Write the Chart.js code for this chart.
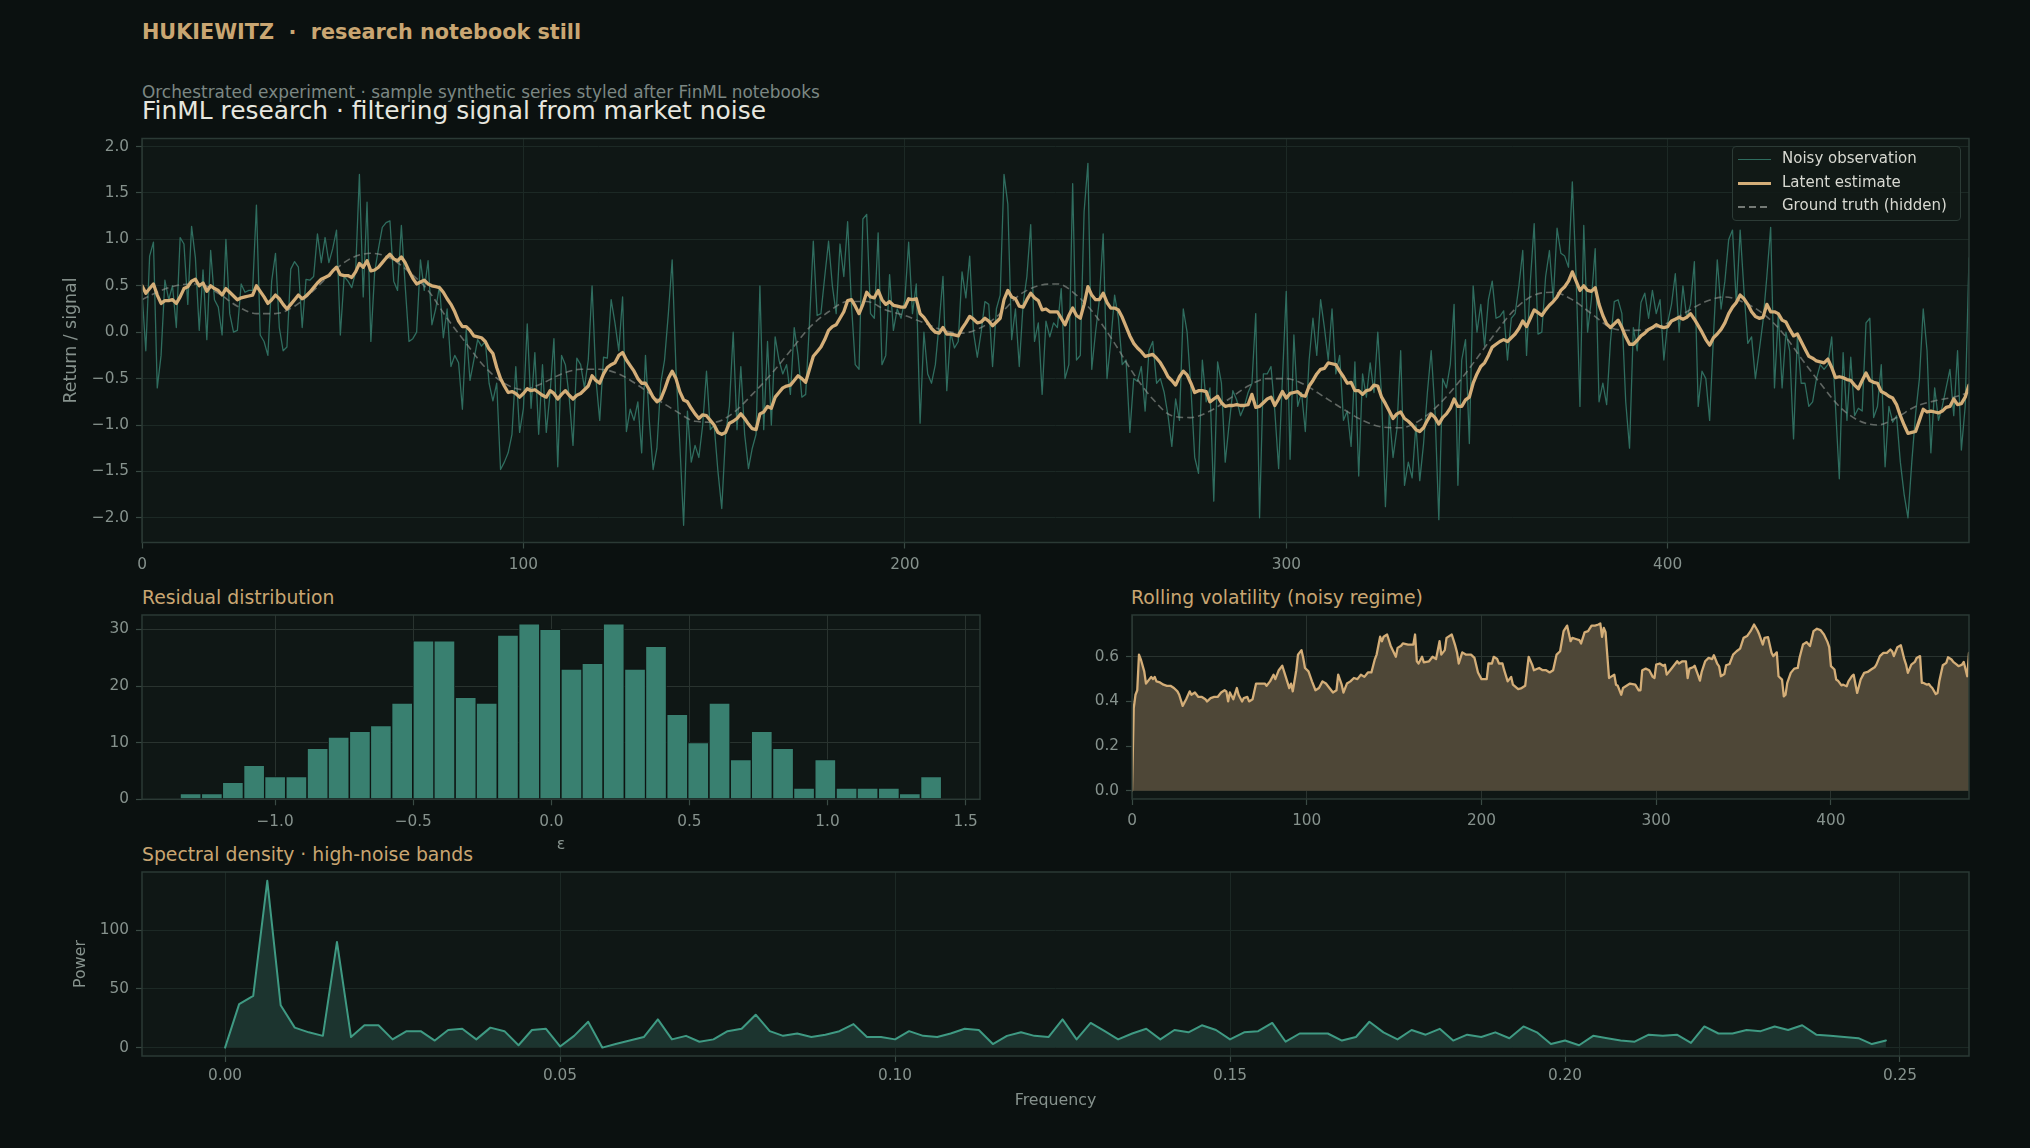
<!DOCTYPE html>
<html>
<head>
<meta charset="utf-8">
<script src="https://cdn.jsdelivr.net/npm/chart.js@4.4.0/dist/chart.umd.min.js"></script>
<style>
html, body { margin: 0; padding: 0; background: #0b1110; }
body { width: 2030px; height: 1148px; position: relative; overflow: hidden; font-family: "DejaVu Sans", sans-serif; }
.t { position: absolute; white-space: pre; line-height: 1; }
canvas { position: absolute; }
#legend { position: absolute; left: 1732px; top: 146px; width: 229px; height: 75px; box-sizing: border-box;
  background: rgba(17,26,23,0.92); border: 1px solid #2c3b36; border-radius: 4px; }
#legend .row { position: absolute; left: 0; height: 18px; width: 100%; }
#legend .s { position: absolute; left: 5px; width: 33px; top: 9px; }
#legend .l { position: absolute; left: 49px; top: 1px; font-size: 15px; line-height: 1; color: #d8d9d2; white-space: pre; }
</style>
</head>
<body>
<div class="t" style="left:142px;top:22px;font-size:20.75px;font-weight:bold;color:#c9a672;">HUKIEWITZ  ·  research notebook still</div>
<div class="t" style="left:142px;top:84px;font-size:16.9px;color:#7b8783;">Orchestrated experiment · sample synthetic series styled after FinML notebooks</div>
<div class="t" style="left:142px;top:99px;font-size:24.9px;color:#e6e6df;">FinML research · filtering signal from market noise</div>
<div class="t" style="left:142px;top:589px;font-size:18.8px;color:#c9a672;">Residual distribution</div>
<div class="t" style="left:1131px;top:589px;font-size:18.8px;color:#c9a672;">Rolling volatility (noisy regime)</div>
<div class="t" style="left:142px;top:846px;font-size:18.8px;color:#c9a672;">Spectral density · high-noise bands</div>

<canvas id="mainChart" width="1990" height="460" style="left:0px;top:128px;width:1990px;height:460px;"></canvas>
<canvas id="histChart" width="1000" height="250" style="left:0px;top:605px;width:1000px;height:250px;"></canvas>
<canvas id="volChart" width="990" height="230" style="left:1000px;top:605px;width:990px;height:230px;"></canvas>
<canvas id="specChart" width="1990" height="262" style="left:0px;top:862px;width:1990px;height:262px;"></canvas>

<div id="legend">
  <div class="row" style="top:3px;"><div class="s" style="border-top:1.3px solid #2f6d5f;"></div><div class="l">Noisy observation</div></div>
  <div class="row" style="top:27px;"><div class="s" style="top:8px;border-top:3.2px solid #d4ae78;"></div><div class="l">Latent estimate</div></div>
  <div class="row" style="top:50px;"><div class="s" style="height:1.6px;background:repeating-linear-gradient(90deg, rgba(150,155,150,0.75) 0 7px, transparent 7px 11px);"></div><div class="l">Ground truth (hidden)</div></div>
</div>

<script>
// ---- main panel: noisy observation, latent estimate, hidden ground truth (index 0..479)
const noisy = [
  0.43,-0.2,0.82,0.97,-0.6,-0.25,0.56,0.35,0.5,0.05,1.02,0.95,0.3,1.14,0.8,0.02,0.67,-0.08,0.88,0.35,
  0.27,-0.03,1.0,0.2,0.0,0.02,0.52,0.43,0.45,0.45,1.37,-0.03,-0.1,-0.25,0.55,0.85,0.05,-0.2,-0.16,0.68,
  0.76,0.7,0.05,0.57,0.56,0.6,1.06,0.75,1.02,0.75,0.9,1.1,-0.03,0.6,0.55,0.48,0.65,1.7,0.38,1.4,
  -0.1,0.65,0.9,1.13,1.18,1.2,0.55,0.45,1.15,0.5,-0.1,-0.07,0.0,0.78,0.45,0.77,0.08,0.25,0.5,-0.06,
  0.25,-0.37,-0.25,-0.33,-0.83,0.03,-0.52,-0.3,-0.08,-0.15,-0.1,-0.55,-0.74,-0.55,-1.48,-1.4,-1.3,-1.1,-0.37,-1.08,
  -0.82,0.09,-0.82,-0.22,-1.1,-0.35,-1.08,-0.65,-0.07,-1.45,-0.25,-0.35,-0.7,-1.22,-0.28,-0.35,-0.6,-0.3,0.5,-0.5,
  -0.95,-0.27,-0.28,0.35,0.1,-0.2,0.38,-1.07,-0.83,-0.95,-0.75,-1.3,-0.25,-0.95,-1.48,-1.25,-0.55,-0.3,0.2,0.78,
  -0.4,-1.2,-2.08,-0.85,-1.4,-1.22,-1.35,-1.0,-0.42,-1.05,-1.0,-1.5,-1.9,-1.1,-0.8,0.0,-1.05,-0.37,-1.1,-1.47,
  -1.25,-1.1,0.5,-1.05,-0.1,-1.0,-0.05,-0.3,-0.45,-0.35,-0.67,0.05,-0.25,-0.7,-0.67,0.1,0.98,0.18,0.2,0.6,
  0.98,0.5,0.2,0.95,0.6,1.19,0.3,-0.35,-0.4,1.22,1.27,0.2,0.15,1.07,-0.35,-0.25,0.62,0.02,0.25,0.15,
  0.35,0.97,0.2,0.52,-0.98,0.0,-0.45,-0.55,-0.35,0.1,0.6,-0.63,0.0,-0.17,-0.1,0.65,0.37,0.82,0.0,-0.27,
  0.0,0.33,0.3,-0.37,0.25,0.4,1.7,1.38,-0.08,0.25,-0.37,0.3,0.6,1.16,-0.1,0.1,-0.67,0.12,-0.05,0.1,
  0.05,0.47,-0.5,-0.35,1.6,-0.3,-0.25,1.3,1.82,-0.4,0.0,0.35,1.06,-0.5,-0.1,0.4,0.15,-0.35,-0.3,-1.08,
  -0.5,-0.53,-0.37,-0.85,-0.2,-0.1,-0.55,-0.5,-0.65,-0.9,-1.23,-0.72,-0.95,0.25,0.0,-0.6,-1.35,-1.52,-0.3,-0.75,
  -0.6,-1.82,-0.32,-0.55,-1.4,-1.0,-0.63,-0.73,-0.9,-0.8,-0.65,-0.55,0.2,-2.0,-0.45,-0.45,-0.37,-0.85,-1.47,-0.5,
  0.44,-1.37,-0.03,-0.8,-0.65,-1.07,-0.3,0.15,-0.25,0.35,0.05,-0.3,0.25,-0.45,-0.25,-0.95,-0.85,-1.23,-0.32,-1.55,
  -0.45,-0.7,-0.33,-0.65,0.0,-0.7,-1.88,-0.87,-1.35,-1.05,-0.2,-1.65,-1.4,-1.57,-1.0,-1.6,-1.2,-0.65,-0.2,-0.85,
  -2.02,-0.5,-0.6,-0.35,0.3,-1.65,-0.3,-0.08,-1.2,0.5,0.0,0.3,-0.15,0.35,0.55,0.15,0.17,0.23,-0.3,0.15,
  0.2,0.5,0.88,-0.25,0.55,1.17,-0.02,0.0,0.6,0.88,0.35,1.12,0.85,0.82,0.7,1.62,0.6,-0.8,1.15,0.0,
  0.35,0.9,-0.75,-0.55,-0.78,-0.1,0.33,0.35,0.2,-0.75,-1.25,0.05,-0.2,0.32,0.42,0.15,0.45,0.2,0.35,-0.3,
  0.1,0.3,0.63,0.0,0.5,0.15,0.3,0.76,-0.8,-0.42,-0.5,-0.95,-0.05,0.78,0.25,0.55,1.0,1.1,0.3,1.1,
  0.45,-0.12,-0.05,-0.5,-0.2,0.12,0.6,1.13,-0.6,0.2,-0.6,0.0,-0.2,-1.15,-0.05,-0.55,-0.55,-0.8,-0.75,-0.5,
  -0.35,-0.4,-0.35,-0.05,-0.8,-1.58,-0.22,-0.95,-0.27,-0.9,-0.82,-0.85,0.1,0.15,-0.92,-0.8,-0.35,-1.45,-0.8,-0.97,
  -0.9,-1.4,-1.75,-2.0,-1.4,-0.88,-0.5,0.25,-0.2,-1.3,-0.6,-0.95,-0.8,-0.6,-0.4,-0.9,-0.2,-1.27,-0.8,0.8
];
const latent = [
  0.50,0.42,0.47,0.52,0.40,0.31,0.34,0.34,0.35,0.31,0.38,0.47,0.49,0.55,0.57,0.50,0.53,0.44,0.50,0.47,
  0.45,0.40,0.47,0.43,0.39,0.35,0.37,0.38,0.39,0.40,0.50,0.44,0.38,0.31,0.35,0.40,0.36,0.30,0.25,0.30,
  0.35,0.40,0.36,0.39,0.43,0.48,0.53,0.57,0.59,0.61,0.66,0.70,0.62,0.61,0.61,0.59,0.65,0.74,0.70,0.77,
  0.66,0.67,0.70,0.75,0.80,0.84,0.79,0.77,0.81,0.75,0.66,0.58,0.52,0.54,0.56,0.52,0.50,0.49,0.48,0.43,
  0.36,0.30,0.22,0.12,0.06,0.06,0.02,-0.04,-0.05,-0.06,-0.10,-0.18,-0.23,-0.38,-0.50,-0.58,-0.65,-0.64,-0.66,-0.70,
  -0.66,-0.61,-0.63,-0.62,-0.65,-0.68,-0.70,-0.63,-0.66,-0.72,-0.67,-0.63,-0.68,-0.72,-0.68,-0.66,-0.62,-0.58,-0.47,-0.52,
  -0.55,-0.45,-0.38,-0.35,-0.33,-0.25,-0.22,-0.30,-0.36,-0.42,-0.50,-0.55,-0.55,-0.62,-0.70,-0.75,-0.72,-0.62,-0.50,-0.42,
  -0.50,-0.64,-0.73,-0.75,-0.82,-0.88,-0.93,-0.89,-0.90,-0.95,-1.00,-1.08,-1.10,-1.08,-0.98,-0.96,-0.93,-0.88,-0.93,-0.99,
  -1.04,-1.05,-0.88,-0.86,-0.80,-0.82,-0.70,-0.65,-0.60,-0.58,-0.57,-0.52,-0.47,-0.50,-0.54,-0.40,-0.26,-0.21,-0.16,-0.08,
  0.02,0.06,0.08,0.15,0.22,0.34,0.35,0.28,0.20,0.30,0.43,0.38,0.37,0.45,0.35,0.30,0.33,0.29,0.28,0.27,
  0.27,0.36,0.35,0.36,0.20,0.16,0.10,0.04,0.00,-0.01,0.05,-0.02,-0.02,-0.03,-0.04,0.04,0.10,0.17,0.14,0.10,
  0.11,0.15,0.12,0.07,0.11,0.15,0.35,0.45,0.38,0.36,0.28,0.27,0.35,0.42,0.37,0.34,0.24,0.25,0.22,0.22,
  0.22,0.15,0.08,0.18,0.26,0.18,0.15,0.30,0.49,0.40,0.35,0.35,0.42,0.32,0.26,0.26,0.24,0.16,0.06,-0.04,
  -0.12,-0.17,-0.21,-0.26,-0.25,-0.24,-0.28,-0.33,-0.40,-0.48,-0.52,-0.57,-0.48,-0.42,-0.46,-0.55,-0.65,-0.63,-0.63,-0.64,
  -0.75,-0.72,-0.69,-0.76,-0.80,-0.79,-0.79,-0.78,-0.79,-0.79,-0.78,-0.67,-0.81,-0.80,-0.76,-0.72,-0.70,-0.79,-0.72,-0.64,
  -0.71,-0.66,-0.65,-0.64,-0.68,-0.69,-0.58,-0.52,-0.45,-0.40,-0.39,-0.33,-0.34,-0.35,-0.42,-0.48,-0.55,-0.54,-0.63,-0.63,
  -0.67,-0.63,-0.62,-0.57,-0.58,-0.70,-0.77,-0.85,-0.93,-0.88,-0.86,-0.93,-0.96,-1.00,-1.05,-1.07,-1.03,-0.95,-0.88,-0.92,
  -0.99,-0.92,-0.88,-0.82,-0.72,-0.80,-0.80,-0.73,-0.70,-0.55,-0.45,-0.37,-0.33,-0.25,-0.16,-0.13,-0.10,-0.08,-0.10,-0.06,
  -0.02,0.04,0.12,0.06,0.15,0.24,0.21,0.18,0.24,0.29,0.33,0.38,0.45,0.49,0.55,0.65,0.55,0.45,0.50,0.45,
  0.44,0.48,0.30,0.18,0.09,0.05,0.09,0.13,0.05,-0.05,-0.13,-0.13,-0.09,-0.04,-0.01,0.03,0.05,0.08,0.06,0.05,
  0.06,0.12,0.14,0.16,0.14,0.16,0.20,0.14,0.07,0.00,-0.08,-0.14,-0.06,-0.02,0.03,0.10,0.20,0.27,0.32,0.40,
  0.36,0.30,0.22,0.17,0.15,0.16,0.30,0.22,0.22,0.20,0.13,0.11,0.03,-0.04,-0.02,-0.10,-0.18,-0.26,-0.28,-0.31,
  -0.32,-0.33,-0.29,-0.38,-0.49,-0.48,-0.49,-0.51,-0.52,-0.57,-0.61,-0.52,-0.44,-0.52,-0.54,-0.55,-0.64,-0.66,-0.69,-0.71,
  -0.78,-0.90,-1.00,-1.09,-1.08,-1.07,-0.95,-0.83,-0.86,-0.85,-0.86,-0.87,-0.85,-0.81,-0.80,-0.72,-0.78,-0.77,-0.70,-0.57
];
const truthIdx = [0,5,10,15,20,25,30,35,40,45,50,55,60,65,70,75,80,85,90,95,
  100,105,110,115,120,125,130,135,140,145,150,155,160,165,170,175,180,185,190,195,
  200,205,210,215,220,225,230,235,240,245,250,255,260,265,270,275,280,285,290,295,
  300,305,310,315,320,325,330,335,340,345,350,355,360,365,370,375,380,385,390,395,
  400,405,410,415,420,425,430,435,440,445,450,455,460,465,470,475,479];
const truthVals = [0.35,0.45,0.51,0.52,0.42,0.28,0.20,0.20,0.28,0.45,0.65,0.80,0.85,0.80,0.65,0.45,0.15,-0.12,-0.38,-0.55,
  -0.62,-0.55,-0.45,-0.40,-0.40,-0.45,-0.57,-0.72,-0.85,-0.96,-0.97,-0.87,-0.67,-0.45,-0.20,0.05,0.22,0.33,0.33,0.24,
  0.18,0.10,0.02,-0.01,0.05,0.20,0.40,0.50,0.52,0.40,0.18,-0.12,-0.45,-0.72,-0.90,-0.92,-0.85,-0.72,-0.58,-0.50,
  -0.50,-0.57,-0.70,-0.83,-0.95,-1.02,-1.03,-0.95,-0.78,-0.55,-0.28,0.00,0.25,0.40,0.43,0.35,0.20,0.05,0.02,0.03,
  0.10,0.22,0.33,0.38,0.32,0.20,0.00,-0.28,-0.55,-0.80,-0.95,-1.00,-0.92,-0.80,-0.74,-0.70,-0.65];

// ---- residual histogram
const histCenters = [-1.306,-1.229,-1.153,-1.076,-1.000,-0.923,-0.846,-0.770,-0.693,-0.617,-0.540,-0.463,
  -0.387,-0.310,-0.234,-0.157,-0.080,-0.004,0.073,0.149,0.226,0.303,0.379,0.456,
  0.532,0.609,0.686,0.762,0.839,0.915,0.992,1.069,1.145,1.222,1.298,1.375];
const histCounts = [1,1,3,6,4,4,9,11,12,13,17,28,28,18,17,29,31,30,23,24,31,23,27,15,10,17,7,12,9,2,7,2,2,2,1,4];

// ---- rolling volatility
const volIdx = [0,1,2,3,4,5,7,8,10,11,12,13,14,16,18,20,22,24,26,27,29,31,33,34,36,38,40,42,43,45,47,49,51,53,54,55,56,58,60,61,
  63,64,66,67,69,71,74,76,77,79,81,82,84,86,88,90,91,92,94,95,97,98,99,101,103,105,107,109,111,113,115,117,118,120,121,123,125,127,129,131,
  133,135,137,139,140,142,143,144,146,148,151,152,154,155,158,161,162,163,164,166,167,170,172,174,176,177,179,180,183,185,186,187,189,191,194,196,198,200,203,204,
  206,207,209,210,212,213,215,217,218,221,223,225,227,229,230,233,235,237,239,241,243,245,247,249,251,252,254,256,257,259,261,263,265,267,268,269,270,271,273,274,
  276,277,278,280,281,283,285,288,290,291,292,294,296,298,299,300,302,304,305,306,308,310,312,313,315,317,318,319,321,322,324,325,326,328,330,332,333,335,336,337,
  339,340,342,344,346,348,350,352,354,356,358,359,361,362,364,366,367,369,370,372,373,374,375,377,379,381,382,384,386,388,390,392,394,396,398,399,400,402,403,404,
  406,407,409,410,412,413,414,415,417,419,421,423,425,426,428,430,432,434,435,436,438,440,442,443,444,446,448,449,451,452,453,455,456,457,458,460,461,462,464,466,
  467,469,470,472,473,475,476,478,479];
const volVals = [0.0,0.37,0.43,0.45,0.61,0.59,0.535,0.48,0.50,0.51,0.50,0.51,0.49,0.485,0.475,0.47,0.47,0.46,0.445,0.43,0.38,0.41,0.445,0.43,0.44,0.42,0.42,0.41,0.40,0.415,0.42,0.42,0.44,0.45,0.445,0.40,0.44,0.41,0.46,0.43,
  0.40,0.415,0.42,0.40,0.41,0.48,0.48,0.48,0.47,0.49,0.52,0.50,0.54,0.56,0.51,0.46,0.48,0.445,0.54,0.61,0.63,0.595,0.55,0.535,0.49,0.45,0.46,0.49,0.48,0.46,0.44,0.45,0.52,0.475,0.44,0.48,0.49,0.505,0.50,0.52,
  0.51,0.53,0.53,0.59,0.61,0.69,0.67,0.69,0.70,0.65,0.60,0.64,0.65,0.66,0.655,0.655,0.70,0.58,0.57,0.60,0.575,0.58,0.60,0.59,0.67,0.61,0.63,0.685,0.70,0.65,0.62,0.57,0.62,0.61,0.61,0.595,0.53,0.50,0.50,0.57,
  0.57,0.60,0.59,0.57,0.57,0.54,0.49,0.51,0.475,0.455,0.46,0.47,0.60,0.565,0.54,0.55,0.54,0.54,0.53,0.54,0.61,0.625,0.715,0.74,0.67,0.685,0.68,0.675,0.66,0.71,0.715,0.74,0.74,0.745,0.75,0.69,0.73,0.71,0.505,0.51,
  0.52,0.475,0.47,0.43,0.46,0.47,0.48,0.475,0.45,0.45,0.54,0.547,0.54,0.51,0.505,0.565,0.57,0.56,0.565,0.52,0.54,0.56,0.58,0.57,0.58,0.58,0.505,0.547,0.553,0.56,0.517,0.493,0.532,0.58,0.595,0.59,0.607,0.568,0.557,0.513,
  0.523,0.562,0.568,0.61,0.625,0.637,0.685,0.693,0.715,0.745,0.718,0.70,0.655,0.685,0.688,0.618,0.603,0.62,0.513,0.498,0.423,0.43,0.483,0.528,0.547,0.55,0.595,0.655,0.666,0.648,0.715,0.726,0.72,0.70,0.667,0.643,0.558,0.543,0.498,0.493,
  0.472,0.475,0.468,0.49,0.513,0.52,0.478,0.438,0.498,0.528,0.532,0.543,0.553,0.565,0.603,0.618,0.618,0.633,0.625,0.603,0.643,0.652,0.588,0.565,0.528,0.565,0.577,0.595,0.603,0.483,0.483,0.475,0.478,0.468,0.46,0.433,0.438,0.49,0.562,0.573,
  0.598,0.588,0.577,0.565,0.558,0.565,0.577,0.513,0.618];

// ---- spectral density (frequency, power)
const specFreq = [0.0000,0.0021,0.0042,0.0063,0.0083,0.0104,0.0125,0.0146,0.0167,0.0188,0.0208,0.0229,0.0250,0.0271,0.0292,0.0313,0.0333,0.0354,0.0375,0.0396,
  0.0417,0.0438,0.0458,0.0479,0.0500,0.0521,0.0542,0.0563,0.0583,0.0604,0.0625,0.0646,0.0667,0.0688,0.0708,0.0729,0.0750,0.0771,0.0792,0.0813,
  0.0833,0.0854,0.0875,0.0896,0.0917,0.0938,0.0958,0.0979,0.1000,0.1021,0.1042,0.1063,0.1083,0.1104,0.1125,0.1146,0.1167,0.1188,0.1208,0.1229,
  0.1250,0.1271,0.1292,0.1313,0.1333,0.1354,0.1375,0.1396,0.1417,0.1438,0.1458,0.1479,0.1500,0.1521,0.1542,0.1563,0.1583,0.1604,0.1625,0.1646,
  0.1667,0.1688,0.1708,0.1729,0.1750,0.1771,0.1792,0.1813,0.1833,0.1854,0.1875,0.1896,0.1917,0.1938,0.1958,0.1979,0.2000,0.2021,0.2042,0.2063,
  0.2083,0.2104,0.2125,0.2146,0.2167,0.2188,0.2208,0.2229,0.2250,0.2271,0.2292,0.2313,0.2333,0.2354,0.2375,0.2396,0.2417,0.2438,0.2458,0.2479];
const specPower = [0,37,44,142,36,17,13,10,90,9,19,19,7,14,14,6,15,16,7,17,
  14,2,15,16,1,10,22,0,3,6,9,24,7,10,5,7,14,16,28,14,
  10,12,9,11,14,20,9,9,7,14,10,9,12,16,15,3,10,13,10,9,
  24,7,21,14,7,12,16,7,15,13,19,15,7,13,14,21,5,12,12,12,
  6,9,22,13,7,15,11,16,6,11,9,13,8,18,13,3,6,2,10,8,
  6,5,11,10,11,4,18,12,12,15,14,18,15,19,11,10,9,8,3,6];

const GRID = '#1c2925';
const GRID_TOP = '#29332f';
const TICK = '#3a4a44';
const LABEL = '#86928d';
const GOLD = '#d4ae78';

Chart.defaults.font.family = '"DejaVu Sans", sans-serif';
Chart.defaults.font.size = 15.3;
Chart.defaults.color = LABEL;
Chart.defaults.elements.line.borderJoinStyle = 'round';
Chart.defaults.elements.line.borderCapStyle = 'round';

const minus = s => s.replace('-', '\u2212');
const f0 = v => minus(String(Math.round(v)));
const f1 = v => minus(v.toFixed(1));
const f2 = v => minus(v.toFixed(2));

// plot background + four-sided frame like the notebook spines
const framePlugin = {
  id: 'frame',
  beforeDraw(chart) {
    const a = chart.chartArea, c = chart.ctx;
    c.save(); c.fillStyle = '#0f1715';
    c.fillRect(a.left, a.top, a.right - a.left, a.bottom - a.top); c.restore();
  },
  afterDraw(chart) {
    const a = chart.chartArea, c = chart.ctx;
    c.save(); c.strokeStyle = '#2b3a35'; c.lineWidth = 1.5;
    c.strokeRect(a.left, a.top, a.right - a.left, a.bottom - a.top); c.restore();
  }
};

// fixed axis box sizes so the plot areas land where the notebook put them
const fixW = w => s => { s.width = w; s.paddingTop = 0; s.paddingBottom = 0; };
const fixH = h => s => { s.height = h; s.paddingLeft = 0; s.paddingRight = 0; };

function axis(min, max, step, fmt, pad, fit, gridColor, z, title) {
  return {
    type: 'linear', min: min, max: max, z: z || 0, offset: false,
    border: { display: false },
    grid: { color: gridColor, lineWidth: 1, tickColor: TICK, tickLength: 6, tickWidth: 1.2, offset: false },
    ticks: { stepSize: step, includeBounds: false, autoSkip: false, maxRotation: 0, color: LABEL, padding: pad, callback: fmt },
    title: title || { display: false },
    afterFit: fit
  };
}

function baseOptions(pad, scales) {
  return {
    responsive: false, animation: false, events: [],
    layout: { padding: pad },
    plugins: { legend: { display: false }, tooltip: { enabled: false } },
    scales: scales
  };
}

// main panel
new Chart(document.getElementById('mainChart'), {
  type: 'line',
  data: { datasets: [
    { label: 'Latent estimate', data: latent.map((v, i) => ({ x: i, y: v })), borderColor: GOLD, borderWidth: 3.3,
      pointRadius: 0, tension: 0, order: 0 },
    { label: 'Ground truth (hidden)', data: truthIdx.map((x, k) => ({ x: x, y: truthVals[k] })), borderColor: 'rgba(150,155,150,0.6)',
      borderWidth: 1.6, borderDash: [7, 4], borderCapStyle: 'butt', pointRadius: 0, cubicInterpolationMode: 'monotone', order: 1 },
    { label: 'Noisy observation', data: noisy.map((v, i) => ({ x: i, y: v })), borderColor: '#2f6d5f', borderWidth: 1.3,
      pointRadius: 0, tension: 0, order: 2 }
  ] },
  options: baseOptions({ top: 10.5, right: 21, left: 0, bottom: 0 }, {
    x: axis(0, 479, 100, f0, 7.5, fixH(45.5), GRID, 0),
    y: axis(-2.266, 2.087, 0.5, f1, 7, fixW(142), GRID, 0,
      { display: true, text: 'Return / signal', color: LABEL, font: { size: 17.4 }, padding: { top: 61, bottom: 0 } })
  }),
  plugins: [framePlugin]
});

// residual histogram
new Chart(document.getElementById('histChart'), {
  type: 'bar',
  data: { datasets: [{ data: histCenters.map((x, k) => ({ x: x, y: histCounts[k] })), backgroundColor: '#398070',
    borderColor: '#0e1614', borderWidth: 1, borderSkipped: false, barPercentage: 1, categoryPercentage: 1 }] },
  options: baseOptions({ top: 10, right: 20, left: 0, bottom: 0 }, {
    x: axis(-1.482, 1.552, 0.5, f1, 7.5, fixH(55.7), GRID_TOP, 1,
      { display: true, text: '\u03b5', color: LABEL, font: { size: 15.8 }, padding: { top: 0, bottom: 1 } }),
    y: axis(0, 32.55, 10, f0, 7, fixW(142), GRID_TOP, 1)
  }),
  plugins: [framePlugin]
});

// rolling volatility
new Chart(document.getElementById('volChart'), {
  type: 'line',
  data: { datasets: [{ data: volIdx.map((x, k) => ({ x: x, y: volVals[k] })), borderColor: GOLD, borderWidth: 2.3,
    pointRadius: 0, tension: 0, fill: 'origin', backgroundColor: '#4e4737' }] },
  options: baseOptions({ top: 10, right: 21, left: 0, bottom: 0 }, {
    x: axis(0, 479, 100, f0, 7, fixH(36), GRID_TOP, 1),
    y: axis(-0.0375, 0.7875, 0.2, f1, 7, fixW(132), GRID_TOP, 1)
  }),
  plugins: [framePlugin]
});

// spectral density
new Chart(document.getElementById('specChart'), {
  type: 'line',
  data: { datasets: [{ data: specFreq.map((x, k) => ({ x: x, y: specPower[k] })), borderColor: '#3f9a83', borderWidth: 2,
    pointRadius: 0, tension: 0, fill: 'origin', backgroundColor: '#1c342f' }] },
  options: baseOptions({ top: 10, right: 21, left: 0, bottom: 0 }, {
    x: axis(-0.0124, 0.2603, 0.05, f2, 5, fixH(68), GRID, 1,
      { display: true, text: 'Frequency', color: LABEL, font: { size: 15.8 }, padding: { top: 0, bottom: 14 } }),
    y: axis(-7.15, 149.5, 50, f0, 7, fixW(142), GRID, 1,
      { display: true, text: 'Power', color: LABEL, font: { size: 15.8 }, padding: { top: 71, bottom: 0 } })
  }),
  plugins: [framePlugin]
});
</script>
</body>
</html>
